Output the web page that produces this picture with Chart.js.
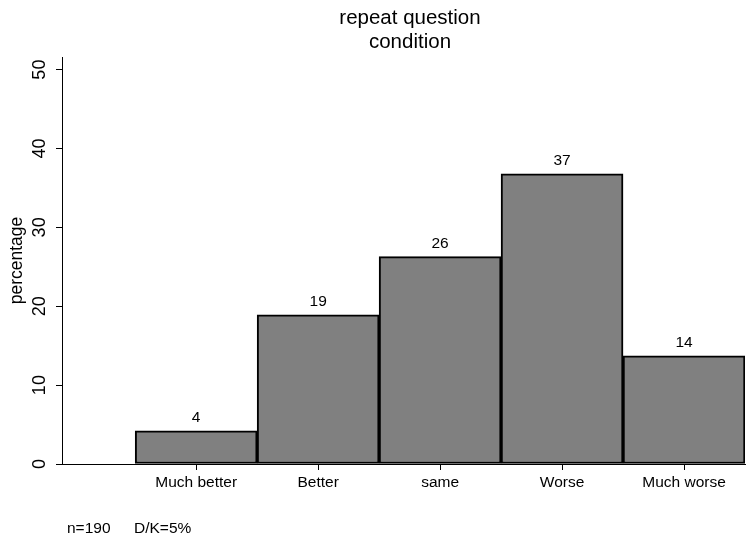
<!DOCTYPE html>
<html>
<head>
<meta charset="utf-8">
<script src="https://cdn.jsdelivr.net/npm/chart.js@4.4.1/dist/chart.umd.min.js"></script>
<style>
  html, body { margin: 0; padding: 0; background: #fff; }
</style>
</head>
<body>
<canvas id="conditionChart" width="746" height="539"></canvas>
<script>
const categories = ["Much better", "Better", "same", "Worse", "Much worse"];
const positions = [1, 2, 3, 4, 5];
const percentages = [4.2, 18.9, 26.3, 36.8, 13.7];
const yTicks = [0, 10, 20, 30, 40, 50];
const titleLines = ["repeat question", "condition"];
const footnotes = ["n=190", "D/K=5%"];

const FONT = "'Liberation Sans', Arial, Helvetica, sans-serif";

// titre, valeurs au-dessus des barres et note de bas de page
const annotations = {
  id: "annotations",
  afterDraw(chart) {
    const c = chart.ctx;
    c.save();
    c.fillStyle = "#000";
    c.textAlign = "center";
    c.textBaseline = "alphabetic";

    c.font = "20.5px " + FONT;
    c.fillText(titleLines[0], 410, 24);
    c.fillText(titleLines[1], 410, 48);

    c.font = "15.5px " + FONT;
    chart.getDatasetMeta(0).data.forEach((bar, i) => {
      c.fillText(String(Math.round(percentages[i])), bar.x, bar.y - 9);
    });

    c.textAlign = "left";
    c.fillText(footnotes[0], 67, 533);
    c.fillText(footnotes[1], 134, 533);
    c.restore();
  },
};

const data = {
  datasets: [
    {
      data: positions.map((x, i) => ({ x: x, y: percentages[i] })),
      backgroundColor: "#808080",
      borderColor: "#000",
      borderWidth: 2,
      borderSkipped: false,
      barPercentage: 1,
      categoryPercentage: 1,
    },
  ],
};

const config = {
  type: "bar",
  data: data,
  plugins: [annotations],
  options: {
    responsive: false,
    animation: false,
    layout: { padding: { top: 57, right: 1, left: 0, bottom: 0 } },
    plugins: {
      legend: { display: false },
      tooltip: { enabled: false },
      title: { display: false },
    },
    scales: {
      x: {
        type: "linear",
        offset: false,
        min: -0.1,
        max: 5.5,
        afterBuildTicks: (s) => { s.ticks = positions.map((v) => ({ value: v })); },
        afterFit: (s) => { s.height = 75; },
        ticks: {
          autoSkip: false,
          maxRotation: 0,
          padding: 3,
          color: "#000",
          font: { family: FONT, size: 15.5 },
          callback: (v) => categories[v - 1],
        },
        grid: { offset: false, drawOnChartArea: false, drawTicks: true, tickLength: 6, color: "#000", lineWidth: 1 },
        border: { display: true, color: "#000", width: 1 },
      },
      y: {
        min: 0,
        max: 51.6,
        afterBuildTicks: (s) => { s.ticks = yTicks.map((v) => ({ value: v })); },
        afterFit: (s) => { s.width = 62; },
        ticks: {
          minRotation: 90,
          maxRotation: 90,
          crossAlign: "center",
          padding: 6,
          color: "#000",
          font: { family: FONT, size: 18 },
        },
        grid: { drawOnChartArea: false, drawTicks: true, tickLength: 6, color: "#000", lineWidth: 1 },
        border: { display: true, color: "#000", width: 1 },
        title: {
          display: true,
          text: "percentage",
          color: "#000",
          font: { family: FONT, size: 17.5 },
          padding: { top: 7, bottom: 0 },
        },
      },
    },
  },
};

new Chart(document.getElementById("conditionChart"), config);
</script>
</body>
</html>
